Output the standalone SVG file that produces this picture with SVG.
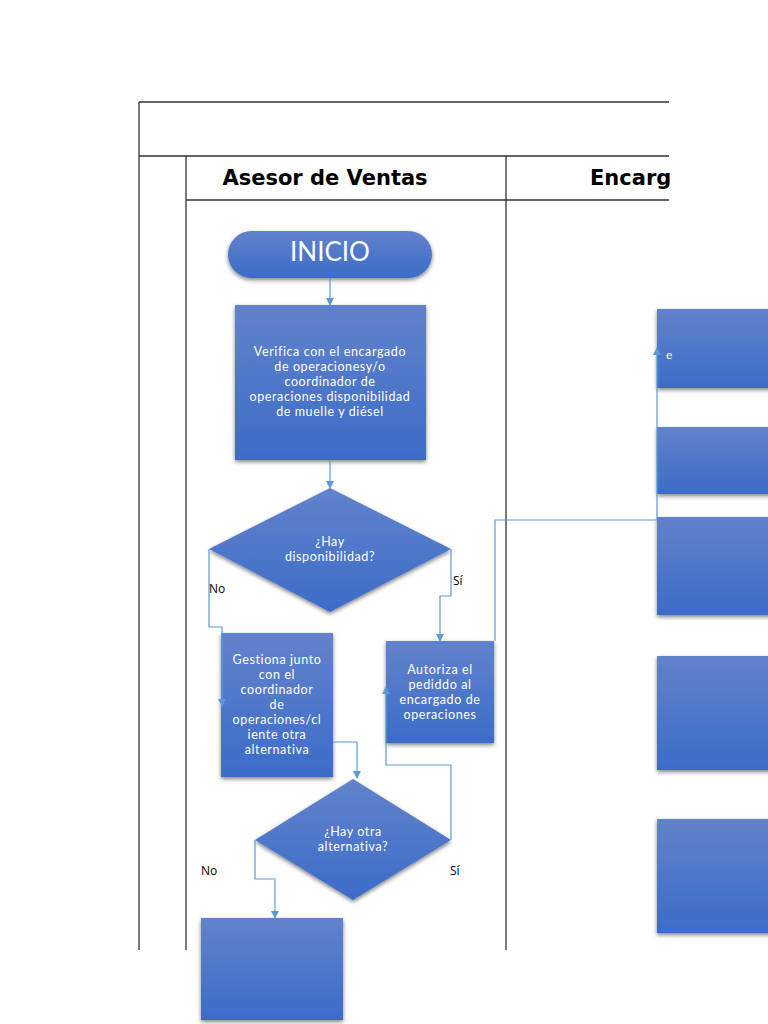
<svg xmlns="http://www.w3.org/2000/svg" width="768" height="1024" viewBox="0 0 768 1024">
<defs>
<linearGradient id="g" x1="0" y1="0" x2="0" y2="1">
<stop offset="0" stop-color="#6282CB"/>
<stop offset="1" stop-color="#3C6CC8"/>
</linearGradient>
<filter id="sh" x="-10%" y="-10%" width="120%" height="130%">
<feGaussianBlur in="SourceAlpha" stdDeviation="2"/>
<feOffset dx="0" dy="2" result="b"/>
<feComponentTransfer><feFuncA type="linear" slope="0.5"/></feComponentTransfer>
<feMerge><feMergeNode/><feMergeNode in="SourceGraphic"/></feMerge>
</filter>
<marker id="ar" markerWidth="8" markerHeight="8" refX="7" refY="4" orient="auto" markerUnits="userSpaceOnUse">
<path d="M0,0 L8,4 L0,8 Z" fill="#5B9BD5"/>
</marker>
<style>
.ln{stroke:#333;stroke-width:1.3;fill:none}
.shape{fill:url(#g);filter:url(#sh)}
.t{font-family:Lato,"Open Sans",sans-serif;font-size:12.5px;letter-spacing:0.6px;fill:#fff;text-anchor:middle}
.lbl{font-family:"Open Sans","Noto Sans",sans-serif;font-size:12px;fill:#000}
.hd{font-family:"DejaVu Sans",sans-serif;font-weight:bold;font-size:21px;fill:#000}
.ca{stroke:#5B9BD5;stroke-width:1.2;fill:none;marker-end:url(#ar)}
</style>
</defs>
<rect width="768" height="1024" fill="#fff"/>
<g id="table">
<path class="ln" d="M139,102 H669 M139,102 V950 M139,156 H669 M186,156 V950 M186,200 H669 M506,156 V950"/>
<text class="hd" x="325" y="185" text-anchor="middle">Asesor de Ventas</text>
<text class="hd" x="590" y="185">Encarg</text>
</g>
<g id="right-boxes">
<rect class="shape" x="657" y="309" width="120" height="79"/>
<rect class="shape" x="657" y="427" width="120" height="67"/>
<rect class="shape" x="657" y="517" width="120" height="98"/>
<rect class="shape" x="657" y="656" width="120" height="114"/>
<rect class="shape" x="657" y="819" width="120" height="114"/>
</g>
<g id="inicio">
<rect class="shape" x="228" y="231" width="204" height="47" rx="23.5"/>
<text x="330" y="261" text-anchor="middle" font-family="Lato,'Open Sans',sans-serif" font-size="26" fill="#fff">INICIO</text>
</g>
<g id="verifica">
<rect class="shape" x="235" y="305" width="191" height="155"/>
<text class="t"><tspan x="330" y="356">Verifica con el encargado</tspan><tspan x="330" y="371">de operacionesy/o</tspan><tspan x="330" y="386">coordinador de</tspan><tspan x="330" y="401">operaciones disponibilidad</tspan><tspan x="330" y="416">de muelle y diésel</tspan></text>
</g>
<g id="dec1">
<path class="shape" d="M330,488 L451,549 L330,612 L209,549 Z"/>
<text class="t"><tspan x="330" y="546">¿Hay</tspan><tspan x="330" y="561">disponibilidad?</tspan></text>
</g>
<g id="gestiona">
<rect class="shape" x="221" y="633" width="112" height="144"/>
<text class="t"><tspan x="277" y="664">Gestiona junto</tspan><tspan x="277" y="679">con el</tspan><tspan x="277" y="694">coordinador</tspan><tspan x="277" y="709">de</tspan><tspan x="277" y="724">operaciones/cl</tspan><tspan x="277" y="739">iente otra</tspan><tspan x="277" y="754">alternativa</tspan></text>
</g>
<g id="autoriza">
<rect class="shape" x="386" y="641" width="108" height="102"/>
<text class="t"><tspan x="440" y="674">Autoriza el</tspan><tspan x="440" y="689">pediddo al</tspan><tspan x="440" y="704">encargado de</tspan><tspan x="440" y="719">operaciones</tspan></text>
</g>
<g id="dec2">
<path class="shape" d="M353,779 L451,840 L353,900 L255,840 Z"/>
<text class="t"><tspan x="353" y="836">¿Hay otra</tspan><tspan x="353" y="851">alternativa?</tspan></text>
</g>
<g id="final">
<rect class="shape" x="201" y="918" width="142" height="102"/>
</g>
<g id="connectors">
<path class="ca" d="M330,278 V305"/>
<path class="ca" d="M330,460 V488"/>
<path class="ca" d="M209,549 V627 H222 V706"/>
<path class="ca" d="M451,549 V596 H440 V641"/>
<path class="ca" d="M333,742 H357 V778"/>
<path class="ca" d="M451,840 V765 H386 V687"/>
<path class="ca" d="M255,840 V879 H275 V918"/>
<path class="ca" d="M495,641 V520 H657 V348"/>
</g>
<g id="labels">
<text class="lbl" x="209" y="593">No</text>
<text class="lbl" x="453" y="585">Sí</text>
<text class="lbl" x="201" y="875">No</text>
<text class="lbl" x="450" y="875">Sí</text>
<text x="666" y="359" font-family="Lato,'Open Sans',sans-serif" font-size="12" fill="#fff">e</text>
</g>
</svg>
